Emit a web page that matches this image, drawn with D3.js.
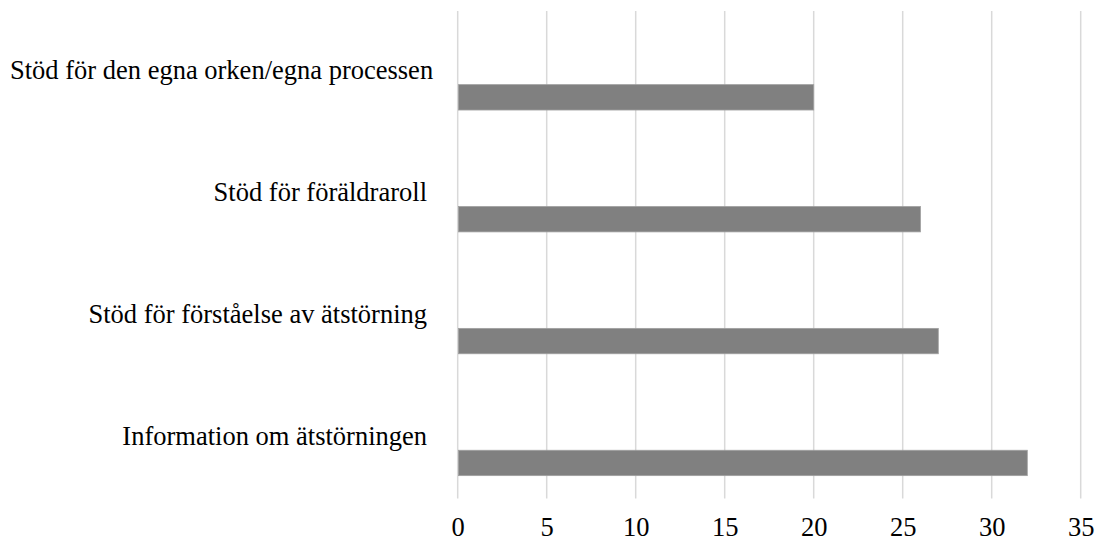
<!DOCTYPE html>
<html>
<head>
<meta charset="utf-8">
<script src="https://cdn.jsdelivr.net/npm/d3@7"></script>
<style>
  html, body { margin: 0; padding: 0; background: #fff; }
  svg { display: block; }
  text { font-family: "Liberation Serif", "Times New Roman", serif; fill: #000; }
</style>
</head>
<body>
<svg id="chart" width="1097" height="542"></svg>
<script>
// Categories listed top to bottom
const categories = [
  "Stöd för den egna orken/egna processen",
  "Stöd för föräldraroll",
  "Stöd för förståelse av ätstörning",
  "Information om ätstörningen"
];
const values = [20, 26, 27, 32];
const xTicks = [0, 5, 10, 15, 20, 25, 30, 35];

const svg = d3.select("#chart");
const margin = { top: 11, right: 16.3, bottom: 43.5, left: 457.7 };
const width = 1097 - margin.left - margin.right;
const height = 542 - margin.top - margin.bottom;
const fontSize = 26.5;

const g = svg.append("g").attr("transform", `translate(${margin.left},${margin.top})`);

const x = d3.scaleLinear().domain([0, 35]).range([0, width]);
const y = d3.scaleBand().domain(categories).range([0, height]).padding(0);
// Slot within each category (bar sits in the last of three slots)
const slot = d3.scaleBand().domain([0, 1, 2]).range([0, y.bandwidth()])
  .paddingInner(0).paddingOuter(0.9);

// Vertical gridlines
g.selectAll(".grid")
  .data(xTicks)
  .join("line")
  .attr("class", "grid")
  .attr("x1", d => x(d)).attr("x2", d => x(d))
  .attr("y1", 0).attr("y2", height)
  .attr("stroke", "#d9d9d9")
  .attr("stroke-width", 1.5);

// Bars
g.selectAll(".bar")
  .data(categories)
  .join("rect")
  .attr("class", "bar")
  .attr("x", x(0) + 0.75)
  .attr("y", d => y(d) + slot(2))
  .attr("width", (d, i) => x(values[i]) - x(0) - 0.75)
  .attr("height", slot.bandwidth())
  .attr("fill", "#808080")
  .attr("stroke", "#a0a0a0")
  .attr("stroke-width", 0.8);

// Category labels, right-aligned above each bar; a label too wide for
// its box starts at the box's left edge and runs past the right edge
const labelRight = -30.7;
const labelLeft = 10 - margin.left;
g.selectAll(".cat")
  .data(categories)
  .join("text")
  .attr("class", "cat")
  .attr("y", d => y(d) + slot(2) - 5.5)
  .attr("font-size", fontSize)
  .text(d => d)
  .each(function () {
    const w = this.getComputedTextLength();
    const sel = d3.select(this);
    if (w > labelRight - labelLeft) {
      sel.attr("x", labelLeft).attr("text-anchor", "start");
    } else {
      sel.attr("x", labelRight).attr("text-anchor", "end");
    }
  });

// X axis tick labels
const xAxis = d3.axisBottom(x).tickValues(xTicks).tickSize(0).tickPadding(19);
const ax = g.append("g").attr("transform", `translate(0,${height})`).call(xAxis);
ax.select(".domain").remove();
ax.selectAll("text")
  .attr("font-family", "Liberation Serif, Times New Roman, serif")
  .attr("font-size", fontSize)
  .attr("fill", "#000");
</script>
</body>
</html>
